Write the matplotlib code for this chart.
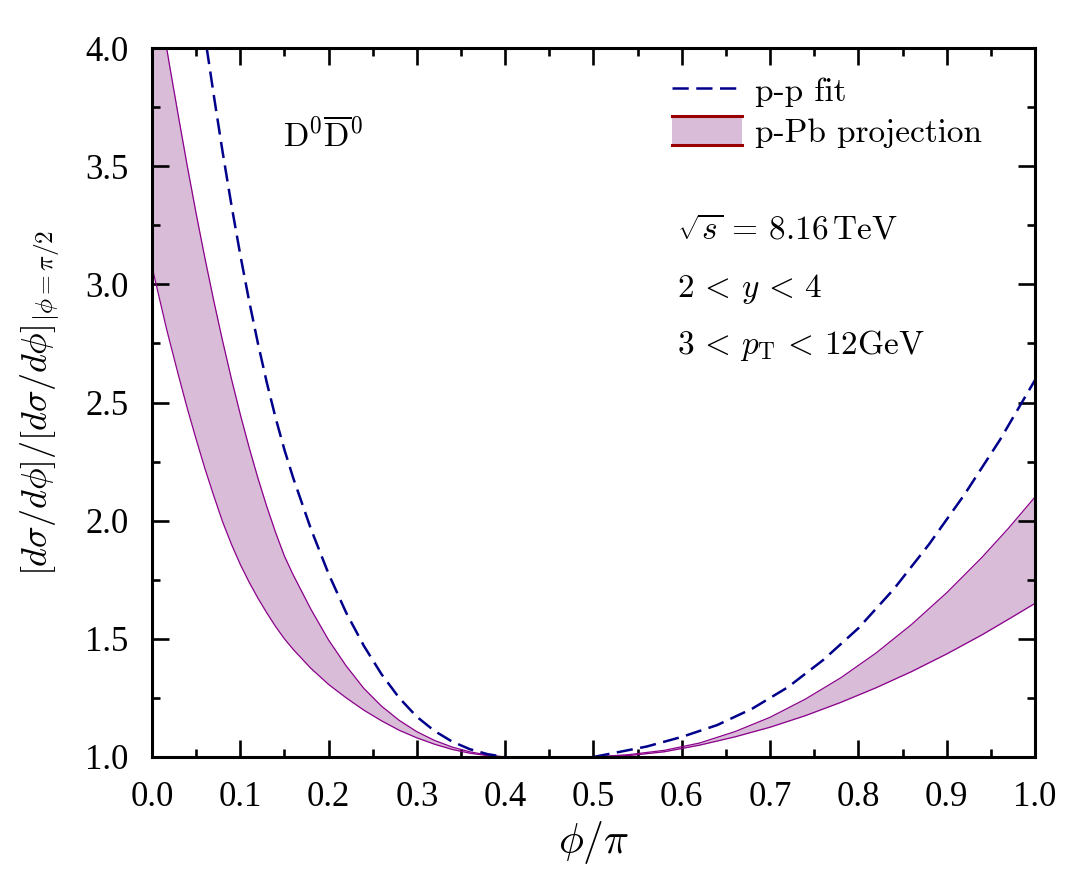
import numpy as np
import matplotlib
matplotlib.use('Agg')
import matplotlib.pyplot as plt
from matplotlib.patches import Rectangle
from matplotlib.lines import Line2D
from matplotlib.legend_handler import HandlerBase

plt.rcParams['font.family'] = 'serif'
plt.rcParams['font.serif'] = ['cmr10']
plt.rcParams['mathtext.fontset'] = 'cm'
plt.rcParams['axes.formatter.use_mathtext'] = True

# p-p fit (dashed), two pieces
pp_left_x = [0.062, 0.07, 0.08, 0.09, 0.10, 0.11, 0.12, 0.13, 0.14, 0.15, 0.16, 0.18,
             0.20, 0.22, 0.24, 0.26, 0.28, 0.30, 0.32, 0.34, 0.36, 0.38, 0.40]
pp_left_y = [4.0, 3.80, 3.56, 3.335, 3.125, 2.93, 2.75, 2.585, 2.435, 2.30, 2.18, 1.965,
             1.775, 1.61, 1.47, 1.35, 1.25, 1.17, 1.11, 1.065, 1.033, 1.012, 1.0]
pp_right_x = [0.50, 0.56, 0.60, 0.64, 0.68, 0.72, 0.76, 0.80, 0.84, 0.88, 0.92, 0.96, 1.0]
pp_right_y = [1.0, 1.044, 1.085, 1.135, 1.205, 1.295, 1.41, 1.545, 1.71, 1.90, 2.11, 2.34, 2.595]

# p-Pb projection band
band_left_x = [0.0, 0.0166, 0.02, 0.03, 0.04, 0.05, 0.06, 0.07, 0.08, 0.09, 0.10, 0.11,
               0.12, 0.13, 0.14, 0.15, 0.16, 0.18, 0.20, 0.22, 0.24, 0.26, 0.28, 0.30,
               0.32, 0.34, 0.36, 0.38, 0.40]
band_left_hi = [4.38, 4.0, 3.925, 3.71, 3.50, 3.30, 3.11, 2.93, 2.76, 2.60, 2.45, 2.31,
                2.18, 2.06, 1.95, 1.85, 1.77, 1.625, 1.495, 1.385, 1.29, 1.215, 1.155, 1.107,
                1.07, 1.042, 1.022, 1.008, 1.0]
band_left_lo = [3.075, 2.81, 2.76, 2.615, 2.475, 2.345, 2.22, 2.105, 1.995, 1.90, 1.815, 1.74,
                1.672, 1.61, 1.552, 1.50, 1.455, 1.375, 1.307, 1.25, 1.198, 1.153, 1.113, 1.081,
                1.054, 1.032, 1.016, 1.006, 1.0]
band_right_x = [0.50, 0.54, 0.58, 0.62, 0.66, 0.70, 0.74, 0.78, 0.82, 0.86, 0.90, 0.94, 0.97, 1.0]
band_right_hi = [1.0, 1.01, 1.028, 1.059, 1.107, 1.168, 1.245, 1.335, 1.44, 1.56, 1.695, 1.845, 1.968, 2.10]
band_right_lo = [1.0, 1.006, 1.022, 1.05, 1.085, 1.126, 1.175, 1.231, 1.293, 1.361, 1.436, 1.517, 1.583, 1.65]

xticks = [0.0, 0.1, 0.2, 0.3, 0.4, 0.5, 0.6, 0.7, 0.8, 0.9, 1.0]
yticks = [1.0, 1.5, 2.0, 2.5, 3.0, 3.5, 4.0]

fill_col = '#d8bcd8'
edge_col = '#8b008b'
pp_col = '#00008b'
leg_red = '#990000'


class BandHandler(HandlerBase):
    def create_artists(self, legend, orig_handle, xdescent, ydescent,
                       width, height, fontsize, trans):
        x0, y0 = -xdescent, -ydescent
        r = Rectangle((x0, y0), width, height, facecolor=fill_col,
                      edgecolor='none', transform=trans)
        top = Line2D([x0, x0 + width], [y0 + height] * 2, color=leg_red, lw=2.2, transform=trans)
        bot = Line2D([x0, x0 + width], [y0] * 2, color=leg_red, lw=2.2, transform=trans)
        return [r, top, bot]


fig = plt.figure(figsize=(10.68, 8.91), dpi=100)
ax = fig.add_axes([0.1423, 0.1504, 0.8268, 0.7957])

for bx, lo, hi in [(band_left_x, band_left_lo, band_left_hi),
                   (band_right_x, band_right_lo, band_right_hi)]:
    ax.fill_between(bx, lo, hi, color=fill_col, lw=0)
    ax.plot(bx, lo, color=edge_col, lw=0.9)
    ax.plot(bx, hi, color=edge_col, lw=0.9)

l1, = ax.plot(pp_left_x, pp_left_y, color=pp_col, lw=1.8, dashes=(6.5, 3.0))
ax.plot(pp_right_x, pp_right_y, color=pp_col, lw=1.8, dashes=(6.5, 3.0))

ax.set_xlim(0, 1)
ax.set_ylim(1, 4)
ax.set_xticks(xticks)
ax.set_yticks(yticks)
ax.set_xticks(np.arange(0.05, 1.0, 0.1), minor=True)
ax.set_yticks(np.arange(1.25, 4.0, 0.5), minor=True)
ax.set_xticklabels(['%.1f' % v for v in xticks], family='Liberation Serif', fontsize=25)
ax.set_yticklabels(['%.1f' % v for v in yticks], family='Liberation Serif', fontsize=25)
ax.tick_params(which='both', direction='in', top=True, right=True, width=1.9)
ax.tick_params(which='major', length=12, pad=17)
ax.tick_params(which='minor', length=6)
for s in ax.spines.values():
    s.set_linewidth(2.2)

ax.set_xlabel(r'$\phi/\pi$', fontsize=30, labelpad=4)
ax.set_ylabel(r'$[d\sigma/d\phi]/[d\sigma/d\phi]_{|\phi=\pi/2}$', fontsize=26, labelpad=17)

ax.text(0.148, 3.63, r'$\mathrm{D}^0\overline{\mathrm{D}}^0$', fontsize=24, va='center')
ax.text(0.595, 3.23, r'$\sqrt{s}\,=\,8.16\,\mathrm{TeV}$', fontsize=24, va='center')
ax.text(0.595, 2.98, r'$2\,<\,y\,<\,4$', fontsize=24, va='center')
ax.text(0.595, 2.74, r'$3\,<\,p_\mathrm{T}\,<\,12\mathrm{GeV}$', fontsize=24, va='center')

band_handle = Rectangle((0, 0), 1, 1)
ax.legend([l1, band_handle], ['p-p fit', 'p-Pb projection'],
          handler_map={Rectangle: BandHandler()},
          loc='upper left', bbox_to_anchor=(0.589, 0.962), frameon=False,
          fontsize=24, handlelength=2.1, handleheight=1.0, handletextpad=0.4,
          labelspacing=0.25, borderpad=0, borderaxespad=0)

fig.savefig('out.png', dpi=100)
